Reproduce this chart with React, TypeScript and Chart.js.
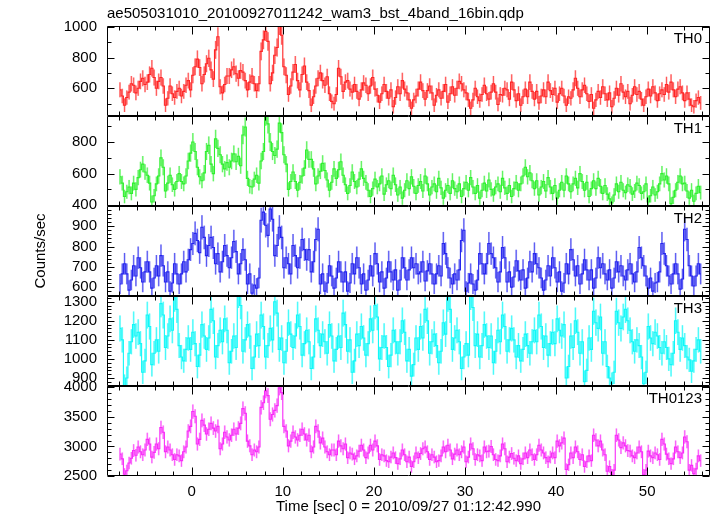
import React, { useEffect, useRef } from 'react';
import { Chart, registerables } from 'chart.js';

Chart.register(...registerables);

const TITLE = 'ae505031010_20100927011242_wam3_bst_4band_16bin.qdp';
const X_LABEL = 'Time [sec] 0 = 2010/09/27 01:12:42.990';
const Y_LABEL = 'Counts/sec';
const PANEL_LABELS = ['TH0', 'TH1', 'TH2', 'TH3', 'TH0123'];

const T_START = -7.875;
const BIN = 0.25;
const X_MIN = -9.3;
const X_MAX = 56.9;
const X_MAJOR = [0, 10, 20, 30, 40, 50];
const X_MINOR = [-8, -6, -4, -2, 2, 4, 6, 8, 12, 14, 16, 18, 22, 24, 26, 28, 32, 34, 36, 38, 42, 44, 46, 48, 52, 54, 56];

const TH0 = [
  590, 550, 490, 540, 575, 630, 620, 570, 600, 645, 665, 625, 640, 690, 730, 670,
  600, 645, 670, 615, 490, 535, 615, 565, 540, 580, 600, 550, 580, 620, 650, 590,
  685, 740, 790, 735, 630, 690, 760, 795, 720, 660, 850, 935, 610, 570, 625, 680,
  680, 720, 740, 695, 665, 715, 705, 650, 590, 640, 680, 630, 585, 630, 840, 915,
  970, 905, 630, 700, 815, 865, 1010, 945, 740, 685, 560, 615, 705, 755, 650, 590,
  690, 745, 640, 585, 490, 545, 615, 665, 700, 650, 620, 675, 565, 515, 500, 560,
  730, 675, 580, 640, 650, 595, 575, 625, 580, 530, 590, 635, 620, 565, 615, 670,
  595, 555, 510, 565, 625, 580, 535, 590, 480, 540, 610, 565, 650, 595, 570, 525,
  470, 525, 550, 595, 640, 585, 530, 585, 615, 570, 490, 555, 590, 535, 580, 625,
  510, 565, 610, 555, 600, 645, 630, 590, 570, 525, 470, 525, 600, 545, 520, 560,
  620, 565, 530, 575, 630, 575, 495, 560, 555, 600, 590, 530, 640, 590, 520, 565,
  490, 545, 595, 545, 640, 580, 530, 580, 505, 550, 590, 545, 640, 585, 560, 600,
  510, 565, 600, 550, 490, 545, 535, 590, 665, 600, 545, 590, 620, 565, 515, 560,
  470, 525, 580, 540, 610, 565, 525, 570, 480, 535, 600, 555, 630, 575, 545, 580,
  500, 555, 610, 560, 580, 530, 490, 545, 595, 550, 610, 570, 520, 565, 590, 560,
  625, 575, 640, 590, 545, 595, 610, 570, 520, 570, 530, 490, 480, 520, 540, 505,
];
const TH1 = [
  580, 540, 455, 485, 515, 475, 540, 500, 575, 625, 660, 610, 590, 540, 420, 460,
  535, 585, 700, 640, 490, 540, 590, 530, 500, 550, 600, 550, 535, 585, 680, 730,
  800, 740, 640, 580, 555, 605, 740, 780, 660, 600, 820, 760, 720, 660, 630, 670,
  640, 680, 725, 675, 710, 650, 845, 895, 570, 520, 515, 565, 590, 540, 680, 740,
  965, 915, 800, 740, 715, 755, 920, 860, 720, 660, 500, 550, 610, 550, 495, 545,
  585, 635, 750, 690, 690, 630, 535, 585, 615, 665, 620, 560, 495, 545, 630, 570,
  625, 675, 590, 530, 475, 525, 610, 550, 515, 565, 630, 570, 545, 495, 455, 505,
  565, 515, 535, 585, 470, 530, 555, 505, 590, 530, 465, 515, 445, 495, 555, 505,
  580, 520, 475, 525, 550, 490, 585, 535, 465, 515, 535, 485, 570, 510, 445, 495,
  525, 475, 555, 505, 485, 535, 455, 505, 545, 495, 575, 515, 475, 525, 445, 495,
  540, 490, 560, 500, 465, 515, 535, 485, 570, 510, 475, 525, 455, 505, 545, 495,
  535, 585, 640, 580, 605, 555, 505, 555, 465, 515, 550, 490, 575, 515, 475, 525,
  445, 495, 545, 495, 585, 535, 485, 535, 570, 510, 600, 550, 495, 545, 455, 505,
  555, 505, 570, 520, 475, 525, 470, 440, 415, 465, 535, 485, 545, 495, 480, 530,
  520, 470, 490, 540, 525, 475, 485, 535, 420, 460, 515, 465, 485, 535, 600, 560,
  585, 535, 410, 450, 495, 545, 585, 535, 540, 490, 445, 495, 425, 475, 520, 480,
];
const TH2 = [
  615, 665, 715, 665, 585, 635, 705, 655, 745, 695, 625, 675, 725, 675, 595, 645,
  705, 655, 755, 705, 625, 675, 580, 620, 715, 665, 615, 665, 725, 675, 735, 785,
  815, 865, 830, 770, 895, 845, 755, 805, 845, 795, 715, 765, 675, 725, 805, 755,
  695, 745, 825, 775, 665, 715, 785, 735, 615, 665, 570, 610, 595, 645, 930, 970,
  905, 855, 985, 935, 755, 805, 895, 845, 695, 745, 715, 665, 805, 755, 695, 745,
  835, 785, 735, 785, 675, 725, 835, 885, 615, 665, 580, 620, 705, 655, 595, 645,
  725, 675, 625, 675, 580, 620, 715, 665, 745, 695, 615, 665, 585, 635, 705, 655,
  765, 715, 625, 675, 595, 645, 725, 675, 635, 685, 585, 635, 745, 695, 635, 685,
  745, 695, 715, 665, 675, 725, 630, 680, 715, 665, 615, 665, 705, 655, 815, 765,
  695, 645, 615, 665, 635, 685, 830, 880, 580, 620, 665, 615, 585, 635, 765, 715,
  665, 715, 815, 765, 745, 695, 625, 675, 795, 745, 625, 675, 600, 650, 730, 680,
  635, 685, 595, 645, 725, 675, 765, 715, 695, 645, 585, 635, 705, 655, 745, 695,
  625, 675, 580, 620, 715, 665, 785, 735, 655, 705, 615, 665, 735, 685, 635, 685,
  595, 645, 745, 695, 715, 665, 635, 685, 595, 645, 725, 675, 705, 655, 635, 685,
  715, 665, 625, 675, 795, 745, 705, 655, 595, 645, 580, 620, 625, 675, 815, 765,
  705, 655, 615, 665, 715, 665, 590, 640, 885, 835, 705, 655, 605, 655, 715, 665,
];
const TH3 = [
  1160, 1100, 860, 900, 1030, 1090, 1180, 1120, 1140, 1080, 930, 990, 1230, 1170, 970, 1030,
  1100, 1040, 1290, 1230, 1060, 1120, 1210, 1150, 1320, 1260, 1070, 1010, 990, 1050, 1110, 1050,
  1140, 1080, 960, 1020, 1180, 1120, 1050, 1110, 1260, 1200, 1010, 1070, 1150, 1090, 1210, 1150,
  980, 1040, 1120, 1060, 1340, 1280, 1040, 1100, 1180, 1120, 950, 1010, 1130, 1070, 1230, 1170,
  1010, 1070, 1160, 1100, 1300, 1240, 1050, 1110, 980, 1040, 1190, 1130, 1060, 1120, 1230, 1170,
  1020, 1080, 1150, 1090, 950, 1010, 1210, 1150, 1070, 1130, 1090, 1030, 1180, 1120, 990, 1050,
  1120, 1060, 1240, 1180, 1040, 1100, 930, 990, 1130, 1070, 1170, 1110, 1020, 1080, 1210, 1150,
  1280, 1220, 1000, 1060, 1120, 1060, 960, 1020, 1150, 1090, 1030, 1090, 1200, 1140, 990, 1050,
  910, 970, 1110, 1050, 1170, 1110, 1260, 1200, 1030, 1090, 1130, 1070, 980, 1040, 1190, 1130,
  1320, 1260, 1050, 1110, 1150, 1090, 950, 1010, 1080, 1020, 1330, 1270, 1070, 1130, 1010, 1070,
  1180, 1120, 1060, 1120, 980, 1040, 1150, 1090, 1230, 1170, 1040, 1100, 1160, 1100, 1010, 1070,
  990, 1050, 1130, 1070, 1030, 1090, 1150, 1090, 1230, 1170, 1060, 1120, 1020, 1080, 1140, 1080,
  1210, 1150, 1120, 1180, 900, 960, 1120, 1060, 1200, 1140, 1030, 1090, 880, 940, 1110, 1050,
  1250, 1190, 1160, 1220, 1030, 1090, 960, 900, 870, 930, 1250, 1190, 1160, 1220, 1260, 1200,
  1150, 1090, 1040, 1100, 1070, 1010, 870, 930, 1170, 1110, 1080, 1140, 1120, 1060, 1030, 1090,
  1060, 1000, 970, 1030, 1200, 1140, 1050, 1110, 1070, 1010, 995, 935, 990, 1050, 1100, 1040,
];
const TH0123 = [
  2870, 2790, 2530, 2590, 2720, 2800, 2930, 2850, 2990, 2910, 2860, 2940, 3120, 3040, 2820, 2900,
  3040, 2960, 3320, 3240, 2910, 2990, 2940, 2860, 2780, 2860, 2840, 2760, 2910, 2990, 3260, 3340,
  3590, 3510, 3040, 3120, 3440, 3360, 3210, 3290, 3390, 3310, 3260, 3340, 2960, 3040, 3240, 3160,
  3110, 3190, 3290, 3210, 3310, 3390, 3640, 3560, 3090, 3010, 2860, 2940, 2910, 2990, 3660, 3740,
  3940, 3860, 3460, 3540, 3610, 3690, 3990, 3910, 3340, 3260, 3010, 3090, 3240, 3160, 3110, 3190,
  3290, 3210, 3110, 3190, 2910, 2990, 3340, 3260, 3060, 3140, 2990, 2910, 2860, 2940, 2940, 2860,
  3090, 3010, 2960, 3040, 2810, 2890, 2870, 2790, 2840, 2920, 3020, 2940, 2810, 2890, 3020, 2940,
  3090, 3010, 2780, 2860, 2840, 2760, 2740, 2820, 2890, 2810, 2710, 2790, 2940, 2860, 2740, 2820,
  2660, 2740, 2890, 2810, 2880, 2960, 2990, 2910, 2780, 2860, 2820, 2740, 2760, 2840, 2990, 2910,
  3020, 2940, 2790, 2870, 2940, 2860, 2910, 2990, 2740, 2820, 3040, 2960, 2780, 2860, 2840, 2760,
  2990, 2910, 2920, 3000, 2860, 2780, 2760, 2840, 3040, 2960, 2740, 2820, 2880, 2800, 2760, 2840,
  2710, 2790, 2890, 2810, 2940, 2860, 2780, 2860, 3020, 2940, 2890, 2810, 2740, 2820, 2890, 2810,
  3090, 3010, 3060, 3140, 2610, 2690, 2890, 2810, 2990, 2910, 2780, 2860, 2660, 2740, 2840, 2760,
  3190, 3110, 3010, 3090, 2940, 2860, 2580, 2660, 2520, 2600, 3190, 3110, 2980, 3060, 3010, 2930,
  2920, 2840, 2810, 2890, 2990, 2910, 2520, 2600, 2920, 2840, 2810, 2890, 2860, 2780, 3120, 3040,
  2870, 2790, 2710, 2790, 2990, 2910, 2810, 2890, 3160, 3080, 2600, 2680, 2540, 2620, 2840, 2760,
];

const SERIES = [TH0, TH1, TH2, TH3, TH0123];
const Y_MIN = [420, 395, 556, 858, 2500];
const Y_MAX = [1005, 965, 1000, 1330, 4022];
const Y_MAJOR = [
  [600, 800, 1000],
  [400, 600, 800],
  [600, 700, 800, 900],
  [900, 1000, 1100, 1200, 1300],
  [2500, 3000, 3500, 4000],
];
const Y_MINOR = [
  [500, 700, 900],
  [500, 700, 900],
  [560, 580, 620, 640, 660, 680, 720, 740, 760, 780, 820, 840, 860, 880, 920, 940, 960, 980],
  [860, 880, 920, 940, 960, 980, 1020, 1040, 1060, 1080, 1120, 1140, 1160, 1180, 1220, 1240, 1260, 1280, 1320],
  [2600, 2700, 2800, 2900, 3100, 3200, 3300, 3400, 3600, 3700, 3800, 3900],
];

const COLORS = ['#ff2424', '#2ef02e', '#2424ee', '#10f8f8', '#f82af8'];
const ERR_COLORS = ['rgba(255,60,60,0.45)', 'rgba(60,240,60,0.45)', 'rgba(60,60,240,0.45)', 'rgba(20,248,248,0.45)', 'rgba(248,60,248,0.45)'];

const FONT_FAMILY = "'Liberation Sans', Arial, Helvetica, sans-serif";
const TIMES = TH0.map((_, k) => T_START + k * BIN);

const panelPlugin = {
  id: 'qdpPanels',
  beforeDatasetsDraw(chart: any) {
    const ctx = chart.ctx;
    const xs = chart.scales.x;
    SERIES.forEach((data, i) => {
      const ys = chart.scales['y' + i];
      ctx.save();
      ctx.beginPath();
      ctx.rect(xs.left, ys.top, xs.right - xs.left, ys.bottom - ys.top);
      ctx.clip();
      ctx.beginPath();
      data.forEach((v, k) => {
        const e = Math.sqrt(v / BIN);
        const px = xs.getPixelForValue(TIMES[k]);
        ctx.moveTo(px, ys.getPixelForValue(v - e));
        ctx.lineTo(px, ys.getPixelForValue(v + e));
      });
      ctx.strokeStyle = ERR_COLORS[i];
      ctx.lineWidth = 1.8;
      ctx.stroke();
      ctx.strokeStyle = COLORS[i];
      ctx.lineWidth = 0.6;
      ctx.stroke();
      ctx.restore();
    });
  },
  afterDraw(chart: any) {
    const ctx = chart.ctx;
    const xs = chart.scales.x;
    const L = Math.round(xs.left) + 0.5;
    const R = Math.round(xs.right) - 0.5;
    ctx.save();
    ctx.strokeStyle = '#000';
    ctx.lineWidth = 1;
    SERIES.forEach((_, i) => {
      const ys = chart.scales['y' + i];
      const T = Math.round(ys.top) + 0.5;
      const B = Math.round(ys.bottom) - 0.5;
      ctx.beginPath();
      ctx.rect(L, T, R - L, B - T);
      const yt = (vals: number[], len: number) => {
        vals.forEach((v) => {
          const py = Math.round(ys.getPixelForValue(v)) + 0.5;
          if (py < T - 1 || py > B + 1) return;
          ctx.moveTo(L, py); ctx.lineTo(L + len, py);
          ctx.moveTo(R, py); ctx.lineTo(R - len, py);
        });
      };
      yt(Y_MAJOR[i], 7);
      yt(Y_MINOR[i], 4);
      const xt = (vals: number[], len: number) => {
        vals.forEach((v) => {
          const px = Math.round(xs.getPixelForValue(v)) + 0.5;
          ctx.moveTo(px, T); ctx.lineTo(px, T + len);
          ctx.moveTo(px, B); ctx.lineTo(px, B - len);
        });
      };
      xt(X_MAJOR, 8);
      xt(X_MINOR, 4);
      ctx.stroke();
      ctx.fillStyle = '#000';
      ctx.font = `15px ${FONT_FAMILY}`;
      ctx.textAlign = 'right';
      ctx.textBaseline = 'alphabetic';
      ctx.fillText(PANEL_LABELS[i], xs.right - 8, ys.top + 17);
    });
    ctx.textAlign = 'left';
    ctx.fillText(TITLE, xs.left, 18);
    ctx.restore();
  },
};

export default function App() {
  const ref = useRef<HTMLCanvasElement | null>(null);
  useEffect(() => {
    document.body.style.margin = '0';
    const canvas = ref.current;
    if (!canvas) return;
    const font = { family: FONT_FAMILY, size: 15 };
    const scales: any = {
      x: {
        type: 'linear',
        min: X_MIN,
        max: X_MAX,
        afterBuildTicks: (s: any) => { s.ticks = X_MAJOR.map((v) => ({ value: v })); },
        afterFit: (s: any) => { s.height = 40; },
        grid: { display: false, drawTicks: false },
        border: { display: false },
        ticks: { font, color: '#000', padding: 7, maxRotation: 0, autoSkip: false, callback: (v: any) => String(v) },
        title: { display: true, text: X_LABEL, font, color: '#000', padding: { top: 0, bottom: 0 } },
      },
    };
    // left stacked boxes are laid out in reverse order of definition, so define the bottom panel first
    for (let i = SERIES.length - 1; i >= 0; i--) {
      scales['y' + i] = {
        type: 'linear',
        position: 'left',
        stack: 'panels',
        stackWeight: 1,
        min: Y_MIN[i],
        max: Y_MAX[i],
        afterBuildTicks: (s: any) => { s.ticks = Y_MAJOR[i].map((v) => ({ value: v })); },
        afterFit: (s: any) => { s.width = 107; },
        grid: { display: false, drawTicks: false },
        border: { display: false },
        ticks: { font, color: '#000', padding: 10, autoSkip: false, callback: (v: any) => String(v) },
        title: i === 2
          ? { display: true, text: Y_LABEL, font, color: '#000', padding: { top: 32, bottom: 0 } }
          : { display: false },
      };
    }
    const chart = new Chart(canvas, {
      type: 'line',
      data: {
        datasets: SERIES.map((data, i) => ({
          label: PANEL_LABELS[i],
          data: data.map((v, k) => ({ x: TIMES[k], y: v })),
          xAxisID: 'x',
          yAxisID: 'y' + i,
          borderColor: COLORS[i],
          borderWidth: 1.1,
          pointRadius: 0,
          stepped: 'middle',
          fill: false,
        })),
      },
      options: {
        responsive: false,
        animation: false,
        layout: { padding: { top: 26, right: 7, left: 0, bottom: 0 } },
        plugins: { legend: { display: false }, tooltip: { enabled: false }, title: { display: false } },
        scales,
      },
      plugins: [panelPlugin],
    } as any);
    return () => chart.destroy();
  }, []);
  return <canvas ref={ref} width={717} height={516} style={{ display: 'block' }} />;
}
